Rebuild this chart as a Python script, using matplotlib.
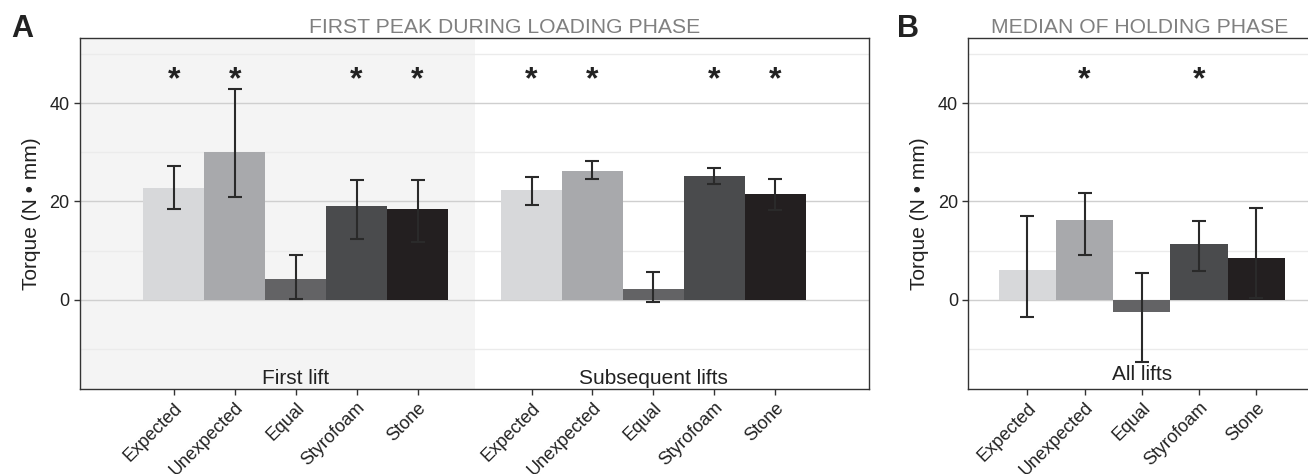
import matplotlib
matplotlib.use("Agg")
import matplotlib.pyplot as plt
import matplotlib.transforms as mtransforms

plt.rcParams['font.family'] = ['Liberation Sans', 'DejaVu Sans']

# data
categories = ['Expected', 'Unexpected', 'Equal', 'Styrofoam', 'Stone']
bar_colors = ['#d7d8da', '#a8a9ac', '#636365', '#4a4b4d', '#231f20']

first_mean = [22.7, 30.0, 4.2, 19.0, 18.4]
first_lo = [18.5, 21.0, 0.1, 12.4, 11.7]
first_hi = [27.2, 42.9, 9.2, 24.4, 24.4]
first_star = [True, True, False, True, True]

subseq_mean = [22.3, 26.2, 2.2, 25.2, 21.6]
subseq_lo = [19.2, 24.5, -0.5, 23.5, 18.2]
subseq_hi = [24.9, 28.3, 5.7, 26.9, 24.6]
subseq_star = [True, True, False, True, True]

hold_mean = [6.0, 16.2, -2.5, 11.4, 8.4]
hold_lo = [-3.5, 9.0, -12.7, 5.8, 0.4]
hold_hi = [17.0, 21.8, 5.4, 16.0, 18.6]
hold_star = [False, True, False, True, False]

major_ticks = [0, 20, 40]
minor_ticks = [-10, 10, 30, 50]
ylims = (-18.2, 53.3)
star_y = 44.6


def draw_group(ax, x0, means, lo, hi, stars):
    xs = [x0 + i for i in range(len(means))]
    ax.bar(xs, means, width=1.0, color=bar_colors, zorder=2)
    yerr = [[m - l for m, l in zip(means, lo)], [h - m for m, h in zip(means, hi)]]
    ax.errorbar(xs, means, yerr=yerr, fmt='none', ecolor='#2a2a2a',
                elinewidth=1.5, capsize=5, capthick=1.5, zorder=3)
    for x, s in zip(xs, stars):
        if s:
            ax.text(x, star_y, '*', ha='center', va='center', fontsize=23,
                    fontweight='bold', color='#222222', zorder=4)
    return xs


def style_axes(ax):
    ax.set_ylim(*ylims)
    ax.set_yticks(major_ticks)
    ax.set_yticks(minor_ticks, minor=True)
    ax.tick_params(axis='y', which='minor', length=0)
    ax.grid(axis='y', which='major', color='#cfcfcf', linewidth=1.0, zorder=1)
    ax.grid(axis='y', which='minor', color='#ebebeb', linewidth=1.0, zorder=1)
    ax.set_axisbelow(True)
    for sp in ax.spines.values():
        sp.set_color('#333333')
        sp.set_linewidth(1.0)
    ax.tick_params(axis='both', which='major', colors='#333333', labelsize=13,
                   length=4, width=1.0)
    ax.tick_params(axis='x', labelcolor='#222222')
    ax.tick_params(axis='y', labelcolor='#222222')
    ax.set_ylabel('Torque (N • mm)', fontsize=15, color='#222222', labelpad=6)


fig = plt.figure(figsize=(13.08, 4.74), dpi=100)

# panel A
axA = fig.add_axes([0.0612, 0.1793, 0.6032, 0.7405])
xlim_A = (0, 12.95)
axA.set_xlim(*xlim_A)
axA.axvspan(xlim_A[0], sum(xlim_A) / 2, color='#f4f4f4', zorder=0, lw=0)
xs1 = draw_group(axA, 1.54, first_mean, first_lo, first_hi, first_star)
xs2 = draw_group(axA, 7.41, subseq_mean, subseq_lo, subseq_hi, subseq_star)
style_axes(axA)
axA.set_xticks(xs1 + xs2)
axA.set_xticklabels(categories + categories, rotation=45, ha='right',
                    va='top', rotation_mode='anchor')
trA = mtransforms.blended_transform_factory(axA.transData, axA.transAxes)
axA.text(xs1[2], 0.03, 'First lift', transform=trA, ha='center',
         va='center', fontsize=15, color='#222222')
axA.text(xs2[2], 0.03, 'Subsequent lifts', transform=trA, ha='center',
         va='center', fontsize=15, color='#222222')

# panel B (runs off the right edge like the original)
axB = fig.add_axes([0.7403, 0.1793, 0.2652, 0.7405])
axB.set_xlim(-0.03, 6.03)
xs3 = draw_group(axB, 1, hold_mean, hold_lo, hold_hi, hold_star)
style_axes(axB)
axB.set_xticks(xs3)
axB.set_xticklabels(categories, rotation=45, ha='right', va='top',
                    rotation_mode='anchor')
trB = mtransforms.blended_transform_factory(axB.transData, axB.transAxes)
axB.text(xs3[2], 0.04, 'All lifts', transform=trB, ha='center',
         va='center', fontsize=15, color='#222222')

# titles and panel letters
fig.text(505 / 1308, 1 - 33 / 474, 'FIRST PEAK DURING LOADING PHASE',
         ha='center', va='baseline', fontsize=15.2, color='#808080')
fig.text(1139.5 / 1308, 1 - 33 / 474, 'MEDIAN OF HOLDING PHASE',
         ha='center', va='baseline', fontsize=15.2, color='#808080')
fig.text(11 / 1308, 1 - 37 / 474, 'A', ha='left', va='baseline',
         fontsize=22, fontweight='bold', color='#222222')
fig.text(897 / 1308, 1 - 37 / 474, 'B', ha='left', va='baseline',
         fontsize=22, fontweight='bold', color='#222222')

fig.savefig('out.png', dpi=100)
